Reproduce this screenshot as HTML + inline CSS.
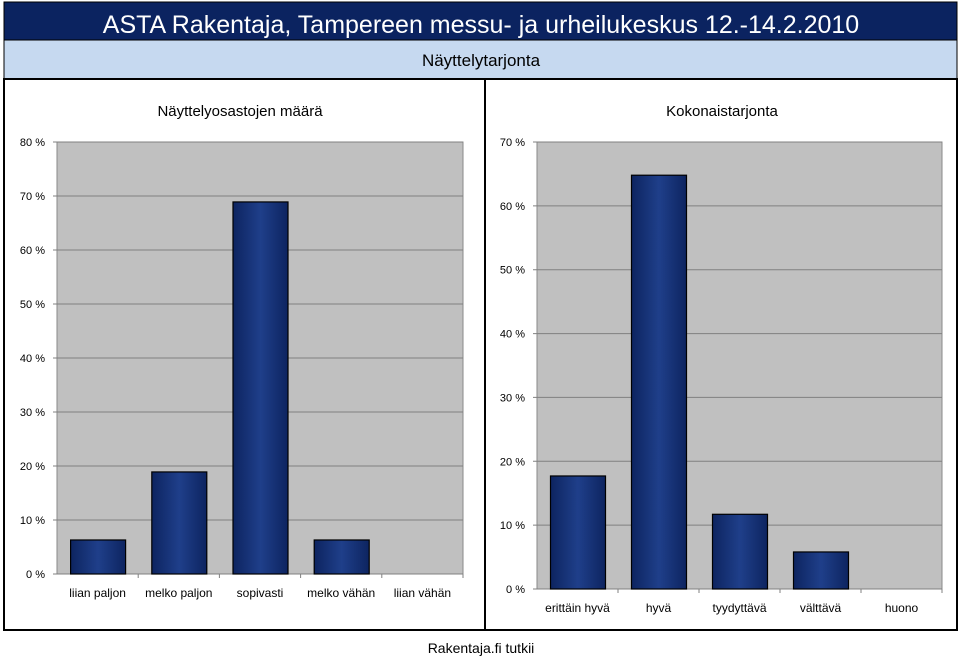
<!DOCTYPE html>
<html><head><meta charset="utf-8"><style>
body{margin:0;width:959px;height:657px;background:#fff;font-family:"Liberation Sans",sans-serif;overflow:hidden}
</style></head><body>
<svg width="959" height="657">
<defs>
<linearGradient id="bg" x1="0" y1="0" x2="1" y2="0"><stop offset="0" stop-color="#0d2460"/><stop offset="0.5" stop-color="#1f3f8a"/><stop offset="1" stop-color="#0d2460"/></linearGradient>
</defs>
<rect x="4" y="2" width="953" height="38" fill="#0b2360" stroke="#000"/>
<text x="481" y="33" text-anchor="middle" font-size="25" fill="#fff">ASTA Rakentaja, Tampereen messu- ja urheilukeskus 12.-14.2.2010</text>
<rect x="4" y="40" width="953" height="39" fill="#c6d9f0" stroke="#000"/>
<text x="481" y="66" text-anchor="middle" font-size="17" fill="#000">Näyttelytarjonta</text>
<rect x="4" y="79" width="481" height="551" fill="#fff" stroke="#000" stroke-width="2"/>
<rect x="485" y="79" width="472" height="551" fill="#fff" stroke="#000" stroke-width="2"/>
<text x="240" y="116" text-anchor="middle" font-size="15">Näyttelyosastojen määrä</text>
<text x="722" y="116" text-anchor="middle" font-size="15">Kokonaistarjonta</text>
<g id="c1"></g><g id="c2"></g>
<text x="481" y="653" text-anchor="middle" font-size="14">Rakentaja.fi tutkii</text>
</svg>
<script>
const cats1=["liian paljon","melko paljon","sopivasti","melko vähän","liian vähän"];
const vals1=[6.3,18.9,68.9,6.3,0];
const ticks1=[0,10,20,30,40,50,60,70,80];
const cats2=["erittäin hyvä","hyvä","tyydyttävä","välttävä","huono"];
const vals2=[17.7,64.8,11.7,5.8,0];
const ticks2=[0,10,20,30,40,50,60,70];
const NS="http://www.w3.org/2000/svg";
function mk(p,t,a){const e=document.createElementNS(NS,t);for(const k in a)e.setAttribute(k,a[k]);p.appendChild(e);return e;}
function draw(g,cats,vals,ticks,x0,x1,y0,y1,labelY,name){
  const max=ticks[ticks.length-1];
  const y=v=>y0-(v/max)*(y0-y1);
  const bw=(x1-x0)/cats.length;
  const pa=mk(g,"rect",{x:x0,y:y1,width:x1-x0,height:y0-y1,fill:"#c0c0c0",stroke:"#8a8a8a"});
  
  
  ticks.forEach(t=>{
    const l=mk(g,"line",{x1:x0-4,x2:x1,y1:y(t),y2:y(t),stroke:"#808080"});
    
    
    const tx=mk(g,"text",{x:x0-12,y:y(t)+4,"text-anchor":"end","font-size":"11"});
    tx.textContent=t+" %";
    
    
  });
  cats.forEach((c,i)=>{
    const cx=x0+bw*(i+0.5);
    const tk=mk(g,"line",{x1:x0+bw*(i+1),x2:x0+bw*(i+1),y1:y0,y2:y0+4,stroke:"#808080"});
    
    
    if(vals[i]>0){
      const b=mk(g,"rect",{x:cx-27,y:y(vals[i]),width:55,height:y0-y(vals[i]),fill:"url(#bg)",stroke:"#000","stroke-width":"1.2"});
      
      
    }
    const t=mk(g,"text",{x:cx,y:labelY,"text-anchor":"middle","font-size":"12"});
    t.textContent=c;
    
    
  });
}
draw(document.getElementById("c1"),cats1,vals1,ticks1,57,463,574,142,597,"left");
draw(document.getElementById("c2"),cats2,vals2,ticks2,537,942,589,142,612,"right");
</script>
</body></html>
